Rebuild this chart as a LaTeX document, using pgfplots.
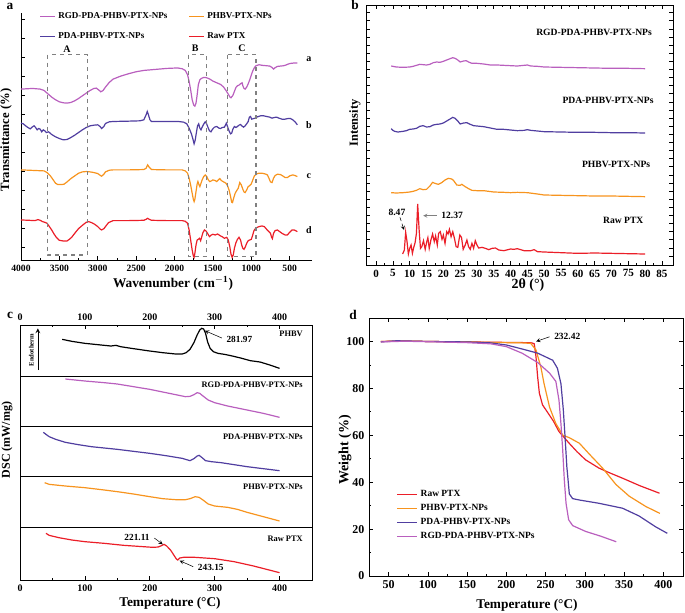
\documentclass[border=0pt]{standalone}
\usepackage{fontspec}
\setmainfont{Liberation Serif}
\usepackage{pgfplots}
\pgfplotsset{compat=1.18}
\definecolor{cmag}{RGB}{185,95,190}
\definecolor{cblue}{RGB}{80,62,160}
\definecolor{corange}{RGB}{247,148,30}
\definecolor{cred}{RGB}{235,30,40}
\newcommand{\fs}[1]{\bfseries\fontsize{#1}{#1}\selectfont}
\pgfplotsset{
  base/.style={scale only axis, anchor=north west, tick align=inside,
    /pgf/number format/assume math mode=true, /pgf/number format/1000 sep={},
    every axis plot/.append style={line width=0.9pt, mark=none},
    axis line style={line width=0.6pt}, every tick/.style={black, line width=0.5pt},
    major tick length=3pt, minor tick length=1.8pt},
  /pgfplots/table/neg/.style={y expr=-\thisrowno{1}, row sep=\\},
}
\begin{document}
\begin{tikzpicture}
\useasboundingbox (0,0) rectangle (513.75pt,-459pt);
% ================= panel a
\begin{axis}[base, at={(15.75pt,-9.75pt)}, width=218.25pt, height=185.25pt,
  xmin=209, xmax=4000, x dir=reverse, ymin=-780, ymax=-40,
  axis x line*=bottom, axis y line*=left,
  xtick={500,1000,...,4000}, minor x tick num=1,
  ytick={-742,-685,...,-58}, yticklabels={},
  tick label style={font=\fs{7.2}},
  legend columns=2, legend cell align=left,
  legend style={at={(0.05,1.025)}, anchor=north west, draw=none, fill=none, font=\fs{6.8},
    /tikz/every even column/.append style={column sep=14pt}, row sep=5pt},
  legend image code/.code={\draw[#1] (0pt,0pt) -- (11pt,0pt);}]
\addplot[cmag] table[neg] {
4000 268\\ 3850 266\\ 3750 268\\ 3700 272\\ 3650 282\\ 3600 292\\ 3550 300\\ 3500 306\\ 3450 309\\ 3400 310\\ 3350 308\\ 3300 303\\ 3250 296\\ 3200 288\\ 3150 280\\ 3100 272\\ 3050 266\\ 3020 265\\ 2990 270\\ 2960 276\\ 2930 272\\ 2900 262\\ 2850 248\\ 2800 238\\ 2700 229\\ 2600 222\\ 2500 216\\ 2400 212\\ 2300 210\\ 2200 208\\ 2100 206\\ 2000 205\\ 1950 205\\ 1900 207\\ 1860 212\\ 1830 225\\ 1810 245\\ 1790 270\\ 1770 300\\ 1750 316\\ 1735 319\\ 1720 310\\ 1705 285\\ 1690 255\\ 1670 240\\ 1650 236\\ 1620 233\\ 1600 233\\ 1570 235\\ 1540 238\\ 1500 244\\ 1450 249\\ 1400 254\\ 1360 262\\ 1330 272\\ 1300 283\\ 1280 291\\ 1265 294\\ 1240 287\\ 1220 275\\ 1200 263\\ 1180 258\\ 1160 256\\ 1140 252\\ 1120 249\\ 1110 258\\ 1095 266\\ 1080 268\\ 1060 262\\ 1040 252\\ 1020 240\\ 1000 226\\ 980 213\\ 960 204\\ 940 198\\ 900 195\\ 850 197\\ 800 198\\ 760 199\\ 730 203\\ 710 208\\ 690 204\\ 660 200\\ 620 199\\ 580 198\\ 550 196\\ 520 193\\ 490 191\\ 450 190\\ 400 190\\
};
\addlegendentry{RGD-PDA-PHBV-PTX-NPs}
\addplot[corange] table[neg] {
4000 510\\ 3900 511\\ 3800 512\\ 3700 513\\ 3660 518\\ 3620 527\\ 3580 540\\ 3550 550\\ 3520 554\\ 3480 554\\ 3440 553\\ 3400 546\\ 3350 536\\ 3300 528\\ 3250 520\\ 3200 516\\ 3150 515\\ 3100 516\\ 3050 518\\ 3000 521\\ 2970 526\\ 2950 529\\ 2920 523\\ 2900 516\\ 2850 511\\ 2800 510\\ 2600 510\\ 2400 509\\ 2370 505\\ 2350 495\\ 2330 502\\ 2300 509\\ 2100 510\\ 1900 510\\ 1860 513\\ 1830 520\\ 1810 535\\ 1790 555\\ 1770 580\\ 1755 598\\ 1745 605\\ 1735 598\\ 1720 575\\ 1705 552\\ 1695 545\\ 1680 555\\ 1670 560\\ 1655 550\\ 1640 540\\ 1620 530\\ 1600 525\\ 1580 530\\ 1560 540\\ 1540 545\\ 1520 543\\ 1500 540\\ 1470 542\\ 1450 545\\ 1430 540\\ 1410 536\\ 1390 542\\ 1360 546\\ 1330 550\\ 1310 557\\ 1290 570\\ 1270 590\\ 1255 607\\ 1245 608\\ 1230 595\\ 1210 580\\ 1190 572\\ 1170 565\\ 1150 548\\ 1130 555\\ 1110 568\\ 1095 576\\ 1080 578\\ 1060 570\\ 1040 560\\ 1020 557\\ 1000 552\\ 980 540\\ 960 528\\ 930 522\\ 900 520\\ 860 520\\ 820 522\\ 790 525\\ 770 535\\ 750 546\\ 730 548\\ 710 535\\ 690 527\\ 660 523\\ 620 524\\ 590 528\\ 560 533\\ 530 533\\ 500 528\\ 460 525\\ 430 527\\ 400 530\\
};
\addlegendentry{PHBV-PTX-NPs}
\addplot[cblue] table[neg] {
4000 370\\ 3970 372\\ 3940 378\\ 3910 383\\ 3880 387\\ 3850 381\\ 3830 378\\ 3810 383\\ 3790 390\\ 3770 386\\ 3750 388\\ 3730 396\\ 3710 390\\ 3690 393\\ 3670 398\\ 3640 396\\ 3600 404\\ 3550 411\\ 3500 416\\ 3450 420\\ 3400 419\\ 3350 413\\ 3300 406\\ 3250 398\\ 3200 390\\ 3150 383\\ 3100 378\\ 3050 376\\ 3000 375\\ 2970 380\\ 2950 386\\ 2920 380\\ 2900 371\\ 2850 366\\ 2800 365\\ 2600 364\\ 2450 363\\ 2400 360\\ 2370 345\\ 2355 335\\ 2340 345\\ 2320 360\\ 2300 365\\ 2100 365\\ 1950 365\\ 1880 367\\ 1840 372\\ 1810 385\\ 1780 402\\ 1760 418\\ 1745 432\\ 1730 420\\ 1715 398\\ 1700 378\\ 1685 372\\ 1670 385\\ 1655 390\\ 1640 382\\ 1620 373\\ 1600 366\\ 1585 370\\ 1565 382\\ 1545 393\\ 1525 396\\ 1505 388\\ 1480 382\\ 1450 380\\ 1420 385\\ 1400 386\\ 1380 383\\ 1350 382\\ 1335 375\\ 1325 370\\ 1310 380\\ 1290 393\\ 1270 402\\ 1255 400\\ 1240 388\\ 1220 380\\ 1200 383\\ 1180 380\\ 1160 376\\ 1140 374\\ 1120 379\\ 1100 382\\ 1080 378\\ 1060 372\\ 1040 365\\ 1025 352\\ 1010 350\\ 995 358\\ 980 357\\ 950 355\\ 920 351\\ 880 348\\ 840 348\\ 800 350\\ 760 352\\ 730 355\\ 700 353\\ 670 352\\ 640 355\\ 600 358\\ 560 358\\ 520 356\\ 490 356\\ 460 360\\ 430 366\\ 400 375\\
};
\addlegendentry{PDA-PHBV-PTX-NPs}
\addplot[cred] table[neg] {
4000 660\\ 3900 661\\ 3820 662\\ 3780 659\\ 3750 661\\ 3720 665\\ 3690 667\\ 3660 670\\ 3630 680\\ 3600 690\\ 3570 702\\ 3540 712\\ 3500 721\\ 3450 723\\ 3400 723\\ 3370 718\\ 3340 712\\ 3300 700\\ 3250 686\\ 3200 676\\ 3150 667\\ 3120 665\\ 3080 668\\ 3040 673\\ 3000 680\\ 2970 687\\ 2950 690\\ 2920 686\\ 2900 680\\ 2860 668\\ 2800 662\\ 2600 662\\ 2400 661\\ 2370 658\\ 2350 655\\ 2330 658\\ 2300 661\\ 2100 662\\ 1900 662\\ 1860 664\\ 1830 670\\ 1810 690\\ 1790 720\\ 1770 750\\ 1755 768\\ 1745 772\\ 1735 760\\ 1720 735\\ 1705 720\\ 1690 718\\ 1675 715\\ 1660 722\\ 1645 710\\ 1630 698\\ 1610 690\\ 1590 693\\ 1570 700\\ 1545 710\\ 1520 705\\ 1500 703\\ 1470 705\\ 1440 702\\ 1420 705\\ 1400 708\\ 1380 710\\ 1350 715\\ 1320 712\\ 1300 720\\ 1280 740\\ 1265 762\\ 1250 772\\ 1235 765\\ 1220 745\\ 1200 728\\ 1180 718\\ 1160 712\\ 1140 720\\ 1125 735\\ 1110 745\\ 1095 748\\ 1080 742\\ 1060 730\\ 1040 722\\ 1020 720\\ 1000 718\\ 985 708\\ 965 692\\ 940 684\\ 900 680\\ 860 678\\ 830 680\\ 800 688\\ 770 695\\ 750 700\\ 735 712\\ 725 716\\ 710 700\\ 690 692\\ 660 690\\ 630 695\\ 600 700\\ 560 705\\ 530 705\\ 500 697\\ 470 690\\ 440 690\\ 400 695\\
};
\addlegendentry{Raw PTX}
\draw[dashed, gray, line width=0.8pt] (axis cs:3652,-165) rectangle (axis cs:3135,-765);
\draw[dashed, gray, line width=0.8pt] (axis cs:1817,-165) rectangle (axis cs:1587,-770);
\draw[dashed, gray, line width=0.8pt] (axis cs:1304,-165) rectangle (axis cs:939,-770);
\node[font=\fs{7.5}] at (axis cs:3400,-147) {A};
\node[font=\fs{7.5}] at (axis cs:1730,-147) {B};
\node[font=\fs{7.5}] at (axis cs:1122,-147) {C};
\node[font=\fs{7.5}] at (axis cs:250,-178) {a};
\node[font=\fs{7.5}] at (axis cs:250,-375) {b};
\node[font=\fs{7.5}] at (axis cs:250,-530) {c};
\node[font=\fs{7.5}] at (axis cs:250,-690) {d};
\end{axis}
% ================= panel b
\begin{axis}[base, at={(274.5pt,-3.75pt)}, width=230.25pt, height=195pt,
  xmin=-3, xmax=88.3, ymin=-795, ymax=-15,
  xtick={0,5,...,85}, minor x tick num=1, ytick={-768,-743.667,...,-37}, yticklabels={},
  tick label style={font=\fs{8.3}}]
\addplot[cmag] table[neg] {
4.5 198\\ 6 201\\ 8 202\\ 10 201\\ 11 199\\ 12 196\\ 13 193\\ 14 194\\ 15 195\\ 16 193\\ 17 188\\ 18 186\\ 19 187\\ 20 184\\ 21 180\\ 22 176\\ 22.8 173\\ 23.5 175\\ 24.3 180\\ 25 186\\ 26 183\\ 26.8 182\\ 27.5 186\\ 28.5 190\\ 30 190\\ 32 192\\ 34 195\\ 36 195\\ 38 196\\ 40 197\\ 42 198\\ 44 196\\ 45 195\\ 46 198\\ 48 199\\ 50 201\\ 55 202\\ 60 203\\ 65 204\\ 70 205\\ 75 205\\ 80 206\\
};
\addplot[cblue] table[neg] {
4.5 386\\ 5 391\\ 5.5 394\\ 6.5 396\\ 8 394\\ 9 392\\ 10 388\\ 11 387\\ 12 385\\ 13 379\\ 14 377\\ 15 381\\ 16 380\\ 17 375\\ 18 373\\ 19 372\\ 20 369\\ 21 363\\ 22 357\\ 22.8 352\\ 23.5 355\\ 24.3 363\\ 25 372\\ 26 369\\ 27 368\\ 28 373\\ 29 377\\ 30 378\\ 32 380\\ 34 384\\ 36 388\\ 38 388\\ 40 390\\ 42 392\\ 44 391\\ 45 389\\ 46 391\\ 48 393\\ 50 395\\ 55 396\\ 60 397\\ 65 397\\ 70 398\\ 75 398\\ 80 399\\
};
\addplot[corange] table[neg] {
4.5 578\\ 6 579\\ 8 578\\ 10 576\\ 11 574\\ 12 571\\ 13 566\\ 14 569\\ 15 568\\ 16 558\\ 16.8 547\\ 17.5 550\\ 18.5 553\\ 19.5 548\\ 20.5 540\\ 21.5 535\\ 22.5 537\\ 23 541\\ 24 555\\ 25 556\\ 25.5 553\\ 26.5 560\\ 27.5 566\\ 28.5 571\\ 30 572\\ 32 572\\ 35 576\\ 38 577\\ 40 578\\ 42 577\\ 45 578\\ 48 582\\ 50 585\\ 55 586\\ 60 587\\ 65 588\\ 70 588\\ 75 589\\ 80 590\\
};
\addplot[cred] table[neg] {
7.9 762\\ 8.4 750\\ 8.8 697\\ 9.2 725\\ 9.6 762\\ 10.0 745\\ 10.4 735\\ 10.8 760\\ 11.2 742\\ 11.6 728\\ 12.0 700\\ 12.37 612\\ 12.8 690\\ 13.2 745\\ 13.6 740\\ 14.1 722\\ 14.6 748\\ 15.0 728\\ 15.4 713\\ 15.8 745\\ 16.3 720\\ 16.8 702\\ 17.3 725\\ 17.7 708\\ 18.2 735\\ 18.6 700\\ 19.1 695\\ 19.6 718\\ 20.0 705\\ 20.5 730\\ 21.0 695\\ 21.4 702\\ 21.8 688\\ 22.3 710\\ 22.8 695\\ 23.3 715\\ 23.8 740\\ 24.3 742\\ 24.9 705\\ 25.4 712\\ 25.9 748\\ 26.5 735\\ 27.0 720\\ 27.5 740\\ 28.0 748\\ 28.5 730\\ 29.0 745\\ 29.5 722\\ 30.0 735\\ 30.5 744\\ 31.5 742\\ 32.5 745\\ 33.5 749\\ 34.5 745\\ 35.5 744\\ 36.5 750\\ 38 752\\ 40 747\\ 41 748\\ 42 746\\ 43 749\\ 44 752\\ 46 752\\ 47 749\\ 48 755\\ 50 756\\ 55 758\\ 60 760\\ 65 759\\ 70 760\\ 75 761\\ 80 762\\
};
\node[font=\fs{7.2}, anchor=east] at (axis cs:83.4,-97) {RGD-PDA-PHBV-PTX-NPs};
\node[font=\fs{7.2}, anchor=east] at (axis cs:83.9,-300) {PDA-PHBV-PTX-NPs};
\node[font=\fs{7.2}, anchor=east] at (axis cs:82.9,-493) {PHBV-PTX-NPs};
\node[font=\fs{7.2}, anchor=east] at (axis cs:80.9,-660) {Raw PTX};
\node[font=\fs{7.2}] at (axis cs:6.2,-636) {8.47};
\draw[densely dashed, -stealth, line width=0.4pt] (axis cs:7.1,-652) -- (axis cs:8.3,-690);
\node[font=\fs{7.2}, anchor=west] at (axis cs:18,-645) {12.37};
\draw[-stealth, line width=0.4pt, gray] (axis cs:18,-647) -- (axis cs:14,-647);
\end{axis}
% ================= panel c
\begin{axis}[base, at={(15pt,-243.75pt)}, width=219pt, height=191.25pt,
  xmin=0, xmax=450, ymin=-840, ymax=-75,
  xtick={0,100,...,400}, minor x tick num=1, ytick=\empty,
  extra y ticks={-228,-378,-530,-683}, extra y tick labels={},
  extra y tick style={grid=major, major grid style={black, line width=0.6pt}, major tick length=0pt},
  tick label style={font=\fs{7.5}}]
\addplot[black] table[neg] {
65 118\\ 80 124\\ 100 130\\ 120 134\\ 140 138\\ 148 136\\ 155 140\\ 175 146\\ 200 153\\ 220 158\\ 240 162\\ 250 162\\ 256 158\\ 262 148\\ 268 128\\ 273 105\\ 277 90\\ 280 85\\ 283 87\\ 286 100\\ 289 125\\ 293 145\\ 298 155\\ 305 160\\ 315 163\\ 325 167\\ 340 174\\ 355 182\\ 370 186\\ 385 195\\ 400 205\\
};
\addplot[cmag] table[neg] {
70 237\\ 100 243\\ 130 248\\ 150 252\\ 175 260\\ 200 268\\ 220 276\\ 240 284\\ 255 290\\ 262 289\\ 268 284\\ 273 278\\ 277 280\\ 282 288\\ 290 300\\ 300 308\\ 320 318\\ 350 330\\ 375 340\\ 400 352\\
};
\addplot[cblue] table[neg] {
36 397\\ 40 403\\ 45 410\\ 55 418\\ 70 427\\ 90 434\\ 110 440\\ 130 444\\ 150 448\\ 175 454\\ 200 460\\ 225 467\\ 250 475\\ 262 482\\ 268 476\\ 273 468\\ 276 466\\ 280 472\\ 286 482\\ 295 485\\ 310 488\\ 330 494\\ 350 500\\ 375 506\\ 400 512\\
};
\addplot[corange] table[neg] {
38 548\\ 45 553\\ 70 558\\ 100 563\\ 130 570\\ 150 575\\ 175 582\\ 200 590\\ 220 596\\ 240 599\\ 255 599\\ 262 596\\ 270 590\\ 276 592\\ 282 600\\ 290 612\\ 300 618\\ 320 622\\ 335 628\\ 350 637\\ 375 650\\ 400 663\\
};
\addplot[cred] table[neg] {
40 700\\ 45 706\\ 60 713\\ 80 720\\ 100 725\\ 130 730\\ 160 736\\ 190 740\\ 205 742\\ 213 741\\ 218 737\\ 222 733\\ 226 738\\ 232 750\\ 237 765\\ 241 777\\ 243.15 780\\ 246 774\\ 252 772\\ 270 772\\ 300 776\\ 330 785\\ 360 798\\ 380 808\\ 400 818\\
};
\node[font=\fs{6.3}, anchor=east] at (axis cs:443,-100) {PHBV};
\node[font=\fs{6.3}, anchor=east] at (axis cs:443,-255) {RGD-PDA-PHBV-PTX-NPs};
\node[font=\fs{6.3}, anchor=east] at (axis cs:443,-410) {PDA-PHBV-PTX-NPs};
\node[font=\fs{6.3}, anchor=east] at (axis cs:443,-560) {PHBV-PTX-NPs};
\node[font=\fs{6.3}, anchor=east] at (axis cs:443,-715) {Raw PTX};
\node[font=\fs{7}, anchor=west] at (axis cs:311,-118) {281.97};
\draw[-stealth, line width=0.4pt] (axis cs:311,-114) -- (axis cs:285,-92);
\node[font=\fs{7}, anchor=east] at (axis cs:207,-712) {221.11};
\draw[-stealth, line width=0.4pt] (axis cs:207,-714) -- (axis cs:220,-733);
\node[font=\fs{7}, anchor=west] at (axis cs:267,-803) {243.15};
\draw[-stealth, line width=0.4pt] (axis cs:267,-800) -- (axis cs:246,-782);
\draw[-stealth, line width=0.6pt] (axis cs:27.6,-210) -- (axis cs:27.6,-85);
\node[font=\fs{5}, rotate=90] at (axis cs:17.5,-150) {Endotherm};
\end{axis}
\begin{axis}[base, at={(15pt,-243.75pt)}, width=219pt, height=191.25pt,
  xmin=0, xmax=450, ymin=0, ymax=1, axis x line*=top, axis y line=none,
  xtick={0,100,...,400}, minor x tick num=1, ytick=\empty,
  tick label style={font=\fs{7.5}}]
\end{axis}
% ================= panel d
\begin{axis}[base, at={(276.75pt,-238.5pt)}, width=235.5pt, height=193.5pt,
  xmin=25, xmax=425, ymin=0, ymax=110,
  xtick={50,100,...,400}, minor x tick num=1,
  ytick={0,20,...,100}, minor y tick num=1,
  tick label style={font=\fs{9}},
  legend cell align=left,
  legend style={at={(0.075,0.355)}, anchor=north west, draw=none, fill=none, font=\fs{7.1}, row sep=0.5pt},
  legend image code/.code={\draw[#1] (0pt,0pt) -- (15pt,0pt);}]
\addplot[cred] table[row sep=\\] {
40 100\\ 70 100.2\\ 100 100\\ 150 99.8\\ 200 99.6\\ 225 99.5\\ 232.4 99.4\\ 235.5 99\\ 237.7 93.6\\ 239.8 85\\ 242 78\\ 246 73\\ 250 71\\ 255 68.5\\ 260 66\\ 267 61.6\\ 275 58.5\\ 280 56.6\\ 290 53\\ 301 49.5\\ 318 46\\ 330 44.2\\ 348 41.7\\ 370 38.5\\ 395 35.3\\
};
\addlegendentry{Raw PTX}
\addplot[corange] table[row sep=\\] {
40 100\\ 70 100.2\\ 100 100\\ 150 99.8\\ 200 99.5\\ 220 99.4\\ 231 99.2\\ 237.7 96.4\\ 244 89\\ 248 82\\ 255 72\\ 263 65\\ 272 60\\ 280 59\\ 293 56.6\\ 305.6 52\\ 322.6 46\\ 339.6 39\\ 356.6 34\\ 377.8 29.6\\ 395.6 26.7\\
};
\addlegendentry{PHBV-PTX-NPs}
\addplot[cblue] table[row sep=\\] {
40 99.8\\ 60 100.3\\ 100 100\\ 150 99.8\\ 180 99.4\\ 200 98.5\\ 220 96.8\\ 240 95\\ 259 92\\ 265 88.6\\ 269.5 82\\ 272.5 71\\ 275 58\\ 277 46.7\\ 280.2 35\\ 284.4 33\\ 293 32.4\\ 318 31\\ 348 28.9\\ 369 25.6\\ 390 21\\ 405 18.2\\
};
\addlegendentry{PDA-PHBV-PTX-NPs}
\addplot[cmag] table[row sep=\\] {
40 99.8\\ 70 100.1\\ 100 99.9\\ 150 99.5\\ 180 99\\ 200 97.8\\ 220 95\\ 240 91\\ 255 86.5\\ 263 83\\ 267 75\\ 269.5 65\\ 271.7 54\\ 273.8 41\\ 276 31\\ 279.3 24\\ 284.4 21.5\\ 301 19\\ 320 17\\ 340 14.6\\
};
\addlegendentry{RGD-PDA-PHBV-PTX-NPs}
\node[font=\fs{7.1}, anchor=west] at (axis cs:255,102.2) {232.42};
\draw[-stealth, line width=0.4pt] (axis cs:255,102) -- (axis cs:238,100);
\end{axis}
% ================= labels
\node[font=\fs{10}] at (7.5pt,-4.5pt) {a};
\node[font=\fs{10}] at (266.25pt,-3.75pt) {b};
\node[font=\fs{10}] at (7.5pt,-236.25pt) {c};
\node[font=\fs{10}] at (264.75pt,-236.25pt) {d};
\node[font=\fs{10}] at (129.75pt,-212.25pt) {Wavenumber (cm$^{\mathbf{-1}}$)};
\node[font=\fs{9.5}, rotate=90] at (4.5pt,-105pt) {Transmittance (\%)};
\node[font=\fs{10.5}] at (396pt,-213.75pt) {2θ (°)};
\node[font=\fs{9.3}, rotate=90] at (266.25pt,-92.25pt) {Intensity};
\node[font=\fs{9}, rotate=90] at (5.25pt,-330pt) {DSC (mW/mg)};
\node[font=\fs{10}] at (127.5pt,-452.25pt) {Temperature (°C)};
\node[font=\fs{10.5}, rotate=90] at (258.75pt,-337.5pt) {Weight (\%)};
\node[font=\fs{10}] at (395.25pt,-453.75pt) {Temperature (°C)};
\end{tikzpicture}
\end{document}
